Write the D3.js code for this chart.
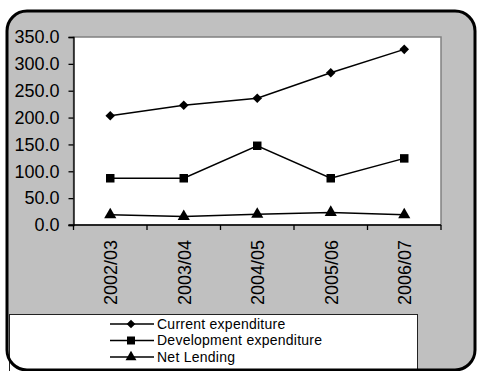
<!DOCTYPE html>
<html>
<head>
<meta charset="utf-8">
<script src="https://cdn.jsdelivr.net/npm/d3@7"></script>
<style>
  html, body { margin: 0; padding: 0; background: #ffffff; }
  svg { display: block; font-family: Arial, "Liberation Sans", sans-serif; }
</style>
</head>
<body>
<svg id="chart" width="477" height="371"></svg>
<script>
// Expenditure by year
const years = ["2002/03", "2003/04", "2004/05", "2005/06", "2006/07"];
const currentExpenditure = [203.5, 223.0, 236.0, 283.5, 327.0];
const developmentExpenditure = [87.0, 87.0, 147.5, 87.0, 124.0];
const netLending = [19.0, 16.0, 20.0, 23.5, 19.0];
const yTicks = [0, 50, 100, 150, 200, 250, 300, 350];
const seriesNames = ["Current expenditure", "Development expenditure", "Net Lending"];

// diamond = square turned 45 degrees
const series = [
  { name: seriesNames[0], values: currentExpenditure, symbol: d3.symbolSquare, size: 46, legendSize: 38, rot: 45 },
  { name: seriesNames[1], values: developmentExpenditure, symbol: d3.symbolSquare, size: 72, legendSize: 64, rot: 0 },
  { name: seriesNames[2], values: netLending, symbol: d3.symbolTriangle, size: 64, legendSize: 52, rot: 0 }
];

const svg = d3.select("#chart");

// grey panel with rounded black frame
const frame = { x: 7, y: 11, w: 468, h: 359, r: 20 };
svg.append("rect")
  .attr("x", frame.x).attr("y", frame.y)
  .attr("width", frame.w).attr("height", frame.h)
  .attr("rx", frame.r).attr("ry", frame.r)
  .attr("fill", "#c0c0c0");

const plot = { left: 73.5, right: 441, top: 37, bottom: 225 };

const x = d3.scaleBand().domain(years).range([plot.left, plot.right]);
const y = d3.scaleLinear().domain([0, 350]).range([plot.bottom, plot.top]);

// plot area
svg.append("rect")
  .attr("x", plot.left).attr("y", plot.top)
  .attr("width", plot.right - plot.left).attr("height", plot.bottom - plot.top)
  .attr("fill", "#ffffff")
  .attr("stroke", "#808080").attr("stroke-width", 1.5);

// y axis
const yAxis = d3.axisLeft(y)
  .tickValues(yTicks)
  .tickFormat(d3.format(".1f"))
  .tickSize(5).tickPadding(9);
const gy = svg.append("g").attr("transform", `translate(${plot.left},0)`).call(yAxis);
gy.select(".domain").attr("stroke", "#000").attr("stroke-width", 1.3);
gy.selectAll(".tick line").attr("stroke", "#000").attr("stroke-width", 1.3);
gy.selectAll(".tick text").attr("font-size", 18).attr("fill", "#000")
  .attr("font-family", "Arial, 'Liberation Sans', sans-serif");

// x axis: ticks between categories
const xAxis = d3.axisBottom(x).tickSize(0).tickFormat(d => d);
const gx = svg.append("g").attr("transform", `translate(0,${plot.bottom})`).call(xAxis);
gx.select(".domain").remove();
gx.append("line")
  .attr("x1", plot.left - 5).attr("x2", plot.right)
  .attr("stroke", "#000").attr("stroke-width", 1.3);
const boundaries = years.map(d => x(d)).concat([plot.right]);
gx.selectAll("line.sep").data(boundaries).enter().append("line")
  .attr("class", "sep")
  .attr("x1", d => d).attr("x2", d => d)
  .attr("y1", 0).attr("y2", 5)
  .attr("stroke", "#000").attr("stroke-width", 1.3);
gx.selectAll(".tick text")
  .attr("font-size", 18).attr("fill", "#000")
  .attr("font-family", "Arial, 'Liberation Sans', sans-serif")
  .attr("transform", "rotate(-90)")
  .attr("text-anchor", "end")
  .attr("x", -15).attr("y", 0)
  .attr("dy", "0.4em");

// series lines and markers
const cx = d => x(d) + x.bandwidth() / 2;
const line = d3.line().x((d, i) => cx(years[i])).y(d => y(d));

series.forEach(s => {
  svg.append("path")
    .datum(s.values)
    .attr("d", line)
    .attr("fill", "none")
    .attr("stroke", "#000")
    .attr("stroke-width", 1.5);
  svg.selectAll(null).data(s.values).enter().append("path")
    .attr("d", d3.symbol().type(s.symbol).size(s.size))
    .attr("transform", (d, i) => `translate(${cx(years[i])},${y(d)}) rotate(${s.rot})`)
    .attr("fill", "#000");
});

// legend box
const legend = { x: 9.5, y: 314.5, w: 408, h: 60 };
svg.append("rect")
  .attr("x", legend.x).attr("y", legend.y)
  .attr("width", legend.w).attr("height", legend.h)
  .attr("fill", "#ffffff").attr("stroke", "#222").attr("stroke-width", 1);

const rowY = [324, 340.5, 357];
series.forEach((s, i) => {
  const g = svg.append("g").attr("transform", `translate(0,${rowY[i]})`);
  g.append("line").attr("x1", 110).attr("x2", 154).attr("y1", 0).attr("y2", 0)
    .attr("stroke", "#000").attr("stroke-width", 1.5);
  g.append("path")
    .attr("d", d3.symbol().type(s.symbol).size(s.legendSize))
    .attr("transform", `translate(131,0) rotate(${s.rot})`)
    .attr("fill", "#000");
  g.append("text")
    .attr("x", 157).attr("y", 0).attr("dy", "0.35em")
    .attr("font-size", 14).attr("letter-spacing", 0.25).attr("fill", "#000")
    .text(s.name);
});

// frame outline drawn on top
svg.append("rect")
  .attr("x", frame.x).attr("y", frame.y)
  .attr("width", frame.w).attr("height", frame.h)
  .attr("rx", frame.r).attr("ry", frame.r)
  .attr("fill", "none")
  .attr("stroke", "#000").attr("stroke-width", 3);
</script>
</body>
</html>
